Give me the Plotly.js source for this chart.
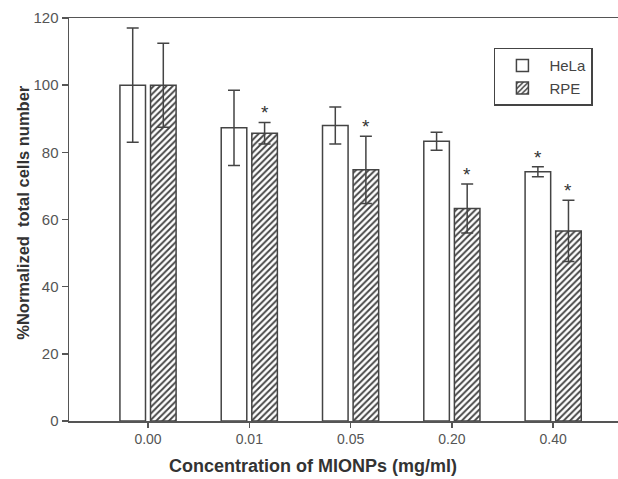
<!DOCTYPE html>
<html>
<head>
<meta charset="utf-8">
<script src="https://cdn.plot.ly/plotly-3.0.1.min.js"></script>
<style>html,body{margin:0;padding:0;background:#fff;}#chart{width:618px;height:479px;}</style>
</head>
<body>
<div id="chart"></div>
<script>
const categories = ["0.00", "0.01", "0.05", "0.20", "0.40"];
const helaValues = [100, 87.3, 88.0, 83.3, 74.2];
const helaErrors = [17, 11.2, 5.5, 2.7, 1.5];
const rpeValues = [100, 85.7, 74.8, 63.3, 56.6];
const rpeErrors = [12.5, 3.2, 10, 7.3, 9.1];
const helaSig = [false, false, false, false, true];
const rpeSig = [false, true, true, true, true];
const xTitle = 'Concentration of MIONPs (mg/ml)';
const yTitle = '%Normalized  total cells number';

const idx = categories.map((c, i) => i);
const bargap = 0.396, bargroupgap = 0.164;
const half = (1 - bargap) / 4;
const ink = '#444';

const traces = [
  {
    type: 'bar', name: 'HeLa', x: idx, y: helaValues,
    marker: {color: '#fff', line: {color: ink, width: 1.5}},
    error_y: {type: 'data', array: helaErrors, visible: true, color: ink, thickness: 1.5, width: 6}
  },
  {
    type: 'bar', name: 'RPE', x: idx, y: rpeValues,
    marker: {color: '#fff', line: {color: ink, width: 1.5},
      pattern: {shape: '/', fgcolor: '#444', bgcolor: '#fff', size: 4.5, solidity: 0.42}},
    error_y: {type: 'data', array: rpeErrors, visible: true, color: ink, thickness: 1.5, width: 6}
  }
];

const annotations = [];
const starFont = {size: 19, color: '#333', family: 'Arial'};
idx.forEach(i => {
  if (helaSig[i]) annotations.push({x: i - half, y: helaValues[i] + helaErrors[i], text: '*', showarrow: false, yanchor: 'bottom', yshift: -3, font: starFont});
  if (rpeSig[i]) annotations.push({x: i + half, y: rpeValues[i] + rpeErrors[i], text: '*', showarrow: false, yanchor: 'bottom', yshift: -3, font: starFont});
});
annotations.push({xref: 'paper', yref: 'paper', x: 0.444, y: -0.112, xanchor: 'center', yanchor: 'middle',
  text: '<b>' + xTitle + '</b>', showarrow: false, font: {size: 18, color: '#333'}});
annotations.push({xref: 'paper', yref: 'paper', x: -0.084, y: 0.519, xanchor: 'center', yanchor: 'middle', textangle: -90,
  text: '<b>' + yTitle + '</b>', showarrow: false, font: {size: 16.5, color: '#333'}});

const layout = {
  width: 618, height: 479,
  margin: {l: 69, r: 0, t: 18, b: 58},
  paper_bgcolor: '#fff', plot_bgcolor: '#fff',
  barmode: 'group', bargap: bargap, bargroupgap: bargroupgap,
  font: {family: 'Arial, Liberation Sans, sans-serif', color: '#444'},
  showlegend: true,
  legend: {x: 0.774, y: 0.926, xanchor: 'left', yanchor: 'top', bordercolor: ink, borderwidth: 1.5,
    bgcolor: '#fff', font: {size: 15, color: '#444'}, tracegroupgap: 0, itemwidth: 44},
  xaxis: {
    range: [-0.78, 4.64], tickvals: idx, ticktext: categories,
    showline: true, linecolor: '#555', linewidth: 1.5, mirror: true,
    ticks: 'outside', ticklen: 5, tickcolor: '#555', tickwidth: 1.5,
    showgrid: false, zeroline: false, tickfont: {size: 14, color: '#555'}
  },
  yaxis: {
    range: [0, 120], tickvals: [0, 20, 40, 60, 80, 100, 120],
    showline: true, linecolor: '#555', linewidth: 1.5,
    ticks: 'outside', ticklen: 6, tickcolor: '#555', tickwidth: 1.5,
    showgrid: false, zeroline: false, tickfont: {size: 15, color: '#555'}
  },
  annotations: annotations
};

Plotly.newPlot('chart', traces, layout, {staticPlot: true});
</script>
</body>
</html>
